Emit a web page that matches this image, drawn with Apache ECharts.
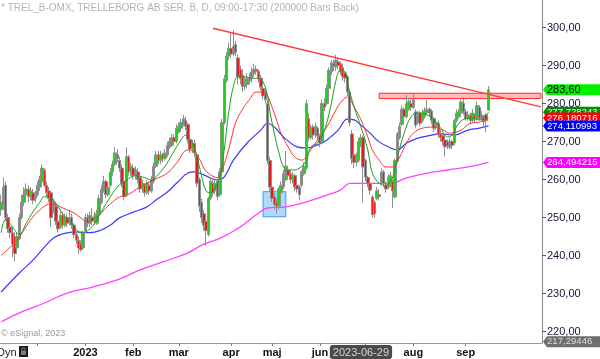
<!DOCTYPE html>
<html><head><meta charset="utf-8">
<script src="https://cdn.jsdelivr.net/npm/echarts@6/dist/echarts.min.js"></script>
<style>html,body{margin:0;padding:0;background:#fff}#c{width:600px;height:359px}</style>
</head><body><div id="c"></div>
<script>
// ---------- categories (trading days) ----------
const firstDay = '2022-11-09';
const lastDataDay = '2023-09-15';
const totalSlots = 238;
const holidays = ['2022-12-26','2023-01-06','2023-04-07','2023-04-10','2023-05-01','2023-05-18','2023-06-06','2023-06-23'];
function fmt(d){return d.toISOString().slice(0,10);}
function tradingDays(){
  const out=[]; const d=new Date(firstDay+'T00:00:00Z');
  while(out.length<totalSlots){
    const s=fmt(d), wd=d.getUTCDay();
    if(wd!==0&&wd!==6&&holidays.indexOf(s)<0) out.push(s);
    d.setUTCDate(d.getUTCDate()+1);
  }
  return out;
}
const categories = tradingDays();
const monthLabels = {'2022-12':'', '2023-01':'2023','2023-02':'feb','2023-03':'mar','2023-04':'apr','2023-05':'maj','2023-06':'jun','2023-07':'','2023-08':'aug','2023-09':'sep'};
const crossDate = '2023-06-29';
const yTicks = [220,230,240,250,260,270,280,290,300];

// ---------- OHLC ----------
const opens = [252,253,258.5,250,247.5,246,245,242,244.5,250,
254,256,257.5,255.5,256.5,255,256,258,259.5,262.5,
258.5,257,256.5,252,253,249,247.5,250.5,248,250,
249,250,248,245.5,244,243,242,246.5,250,248.5,
250,249,248.5,251,254,257,259.5,256,258.5,262,
264,266.5,265,263,259.5,256,266,262,263,261,
262,260.5,257.5,258.5,256.5,258.5,257,259.5,263.5,266.5,
265,266.5,265.5,266.5,268.5,269,271,270,272.5,273.5,
274.5,275.5,274.5,270.5,268,269.5,266.5,260,254,251,
249,245.5,255,259,257,259.5,256,262,275,286,
292.5,294.5,293,295.5,292,289,287.5,284.5,285,286,
286.5,288,289,288.5,286.7,284,283,280,265,258,
255.5,254,253,256.5,258,260,262.5,261.5,260,261,
258.5,258,258.5,261.5,263,276,271,273.8,272,273.5,
271.5,270,280,280,284,288.3,290.5,289.6,291,290.5,
289.5,288,287,283,272,266.5,264.5,265,269.5,271,
265,260.5,259,255.4,254,255,256,259,262,258.5,
258,259,259.5,255.4,265,271,274.5,278.5,276.5,278.5,
280,279,277.8,275,277.5,275.5,276.5,277.5,278.5,278,
276,274,274.8,272,271.5,270.4,270,268.5,270,269.6,
275.5,276.5,277.5,280,277.8,276,277,275.5,277,276,
279,276,276.5,277,278.3];
const closes = [254,258,250,247,246,243,240.5,245,250,254,
256,257.5,255.5,257,254.5,256,258.5,260,263,258.5,
256.5,255,250,254,249,247,250.5,248,250,248.5,
250,248,245.5,244,242,241.5,246,250,248.5,250.5,
249,250.5,251,255,257.5,259.5,256,258,262,264,
267,265.5,263,259,255.5,266,262,263.5,261,262.5,
260,257.5,259,256.5,259,257,260,263.5,266.5,265,
266.5,265.5,267,269,270,271,270,273.5,274,275,
276,274,270.5,268,269.5,267,259,253,250,248,
246.5,255,259.5,256.5,259,255.5,262,275,286.5,292.5,
294.5,293,295,293.5,287,286.5,284.5,285.5,286.5,286.8,
288.3,289,288.5,286.5,284.3,282,281,265,258,255,
253.5,253,257.5,258.5,261.5,263.5,261,260,261,258,
257.5,256,262,263.5,280,271,273.5,271.7,274,271.5,
269.6,280,279,284,288.8,290.7,289.7,291.4,290,288.3,
287,286.7,283,275,265.5,264.5,266,270,271,263.3,
260.6,259,257.2,250.7,251,257,255.5,262,259,257.5,
260.6,261,257,265,272,274,278.5,276.5,280,280.5,
279,281,274.3,277,274.8,277.5,278,278.5,277.5,275.5,
273.5,275,271.7,271,270,268.6,268.8,270,269,275.5,
277.5,277.8,280.4,277.8,276,277,275.5,277.5,276,279.5,
276,277,275.2,275.5,283.6];
const highs = [256,260.5,259.5,251,249,247.5,246,246,251,256,
258,259,258.5,258,257.5,257,259.5,261,264,263,
259.5,258,257,255,254,250,251.5,251.5,251,251,
252,251,248.5,246.5,245,244,246.5,251,251,251.5,
252.5,251.5,252,256,258.5,261,260,259,263,265,
268.5,268,266,264,260,268.5,266.5,264.5,264,263.5,
263,261,260,259,260,259.5,261,264.5,267.5,267.5,
267.5,267,268,270,271,272,272,274.5,275,276,
277,276.5,275,271.5,270.5,270.5,267,260.5,255,252,
250,255.5,260.5,260,260,260,263,276,287.5,293.5,
296,298.5,299.3,296.5,293,290,289,287,288,288,
289.5,290.5,290,289,287.5,285,284,281,266,259.5,
256.5,255,258,259.5,262.5,267.5,263.5,262.5,262,261.5,
259.5,258.5,262.5,264.5,281,277.5,274.5,274.5,275,274,
272,281,281.5,285,289.5,291.5,291.5,292.8,292,291,
290.5,288.5,287.5,283.5,273,268,267,271,272,271.5,
265.5,261,259.5,256,254.5,258,257.5,263,262.5,259.5,
261.5,262,260,265.5,272.5,275,279.5,279,282.2,281.5,
281,282.5,278.5,278,278,278.5,279,281,279,278.5,
276.5,276,275.5,273,272,271,270.5,271,270.5,276,
278.5,278.5,281,281.7,278.5,278,277.5,278.5,277.5,280.5,
279.5,278,277,277.5,284.6];
const lows = [250.5,252,249,246,244.5,239.5,238.5,241,244,249.5,
253,255,254,254.5,253.5,254,255.5,257,259,258,
255.5,254,247.5,251,248,246,247,247,247.5,247.5,
248,247,244.5,243,240.5,241,241.5,246,247.5,247.5,
248,248,248,250.5,253.5,256.5,255,255.5,258,261,
263.5,264.5,262,258,254.5,255.5,261,261,260,260,
259,256.5,256.5,255.5,256,256,256.5,259,263,264,
264,264.5,265,266,268,268.5,269,269.5,272,273,
274,273,269.5,267,267,266,258,251.5,248.5,246.5,
242.5,245,254.5,255.5,256,254.5,255.5,261.5,274.5,285.5,
291.5,292,292.5,292.5,285,285,283,283.5,284,285,
285.5,287,287.5,285.5,283.5,281,280,264,257,254,
252,251,252,255.5,257.5,259.5,260,259,259,257,
256.5,254.5,258,261,262.5,270,270.5,270.5,271,270.5,
268.5,269.5,278,279.5,283.5,287.5,288.5,288.5,289,287.5,
286,285.5,282,274,264,263,263.5,264.5,268.5,254,
259.5,258,256,250,250,254.5,254.5,258.5,258,256.5,
257.5,258,252.5,255,264.5,270.5,274,275.5,276,278,
278,278.5,273.5,274.5,274,275,276,277,276.5,274.5,
272.5,273,271,270,269,266,268,268,268,269,
275,276,277,277,275.5,275.5,274.5,275,275,275.5,
275.5,275.5,273.5,272.5,278];

// ---------- moving averages: [dayIndex, value] ----------
const maFast = [[0,246.0],[2,249.5],[5,247.5],[8,245.5],[11,248.5],[14,251.5],[17,254.0],[19,255.5],[23,254.5],[27,251.0],[31,248.5],[35,246.0],[38,246.5],[41,248.5],[44,251.5],[47,254.5],[51,258.0],[55,259.8],[59,261.0],[63,260.5],[66,259.9],[68,260.7],[72,263.5],[75,266.5],[79,270.4],[81,271.7],[84,269.5],[86,266],[88,261],[90,257],[92,256.5],[94,258],[96,260.5],[98,268],[100,278],[102,284.5],[104,287],[107,287],[110,286.7],[113,286.5],[115,285.7],[117,282],[118,278],[120,272],[122,267],[124,263.3],[126,262.5],[128,262.5],[131,263],[134,265],[136,268.6],[139,269.6],[142,273],[145,280],[147,286],[149,288.8],[151,288.3],[152,285.5],[155,279.1],[158,273.8],[161,267.8],[163,261.7],[166,259],[169,258.5],[172,260.7],[174,265.9],[177,272.2],[180,276.5],[183,277.5],[187,277],[190,275.7],[193,273.5],[196,271.2],[198,271.7],[201,274.8],[205,276.1],[207,276.1],[210,275.7],[212,276.1],[214,277.73]];
const maMid = [[0,240],[4,242.2],[7,244],[10,246.7],[14,250.2],[17,252],[20,253.3],[23,253.6],[26,252.8],[29,252],[32,251.2],[35,249.9],[38,248.8],[40,249.3],[43,250.6],[46,252.5],[49,254.1],[52,255.4],[55,255.8],[61,258],[67,259.9],[73,261.7],[77,264.3],[82,267.8],[84,267.5],[87,265.5],[89,263],[92,261.2],[95,260.5],[97,262.5],[99,266],[101,270.5],[103,275],[106,278.5],[109,281],[112,283],[115,283],[117,282],[119,279],[121,275.5],[123,272],[126,268.6],[129,265.9],[132,265.1],[135,267],[138,269.6],[143,273.8],[147,278.3],[150,280.9],[152,281.7],[155,279.1],[158,275.7],[161,271.2],[163,267.8],[166,265.1],[169,263.3],[172,263.3],[175,265.9],[178,269.6],[181,272.2],[185,273.5],[190,273.8],[194,273],[197,272.2],[202,273],[206,274.8],[210,275.1],[214,276.18]];
const maSlow = [[0,230.4],[8,235.4],[14,238.8],[19,242.2],[23,244.6],[27,245.7],[33,246.2],[39,246],[44,246.7],[48,248],[52,249.9],[58,251.4],[64,252.8],[68,254.6],[73,256.7],[77,259],[82,261.7],[85,262],[89,261.2],[95,259.9],[98,260.7],[102,265.1],[108,269.6],[114,273],[117,274.8],[120,273.8],[124,271.2],[130,268.6],[134,268.3],[139,269.1],[143,270.4],[148,273],[152,275.9],[155,275.7],[158,274.3],[162,272.2],[166,269.9],[171,268.3],[174,267.8],[178,269.6],[183,270.9],[187,271.4],[193,272],[199,271.7],[205,273],[210,273.5],[214,274.11]];
const ma200 = [[0,222.5],[8,224.9],[19,227.5],[29,230.1],[40,231.7],[51,233.6],[61,236.2],[71,238.3],[82,240.7],[89,243],[96,244.5],[105,247.5],[112,250.7],[117,252.5],[125,252.8],[134,254.1],[143,255.9],[149,257.2],[153,259],[162,259],[171,259],[178,260.4],[187,261.7],[196,262.5],[205,263.3],[214,264.49]];

// ---------- annotations ----------
const trendStart = [93, 299.8];
const trendEnd = [237, 279.1];
const supportBox = {from: 115, to: 125, low: 250.2, high: 256.8};
const resistBand = {from: 166, to: 237, low: 281.3, high: 282.7};
// right-hand value tags, in drawing order (later ones on top)
const tagValues = [264.494215, 217.29446, 283.60, 277.728243, 276.180716, 274.110993];
const tagDecimals = [6, 5, 2, 6, 6, 6];

// ---------- build ----------
const ohlc = opens.map((o,i)=>[o, closes[i], lows[i], highs[i]]);
const monthStart = {};
categories.forEach((d,i)=>{
  if(d>lastDataDay) return;
  const m=d.slice(0,7);
  if(i>0 && categories[i-1].slice(0,7)!==m && (m in monthLabels)) monthStart[i]=monthLabels[m];
});
const crossIdx = categories.indexOf(crossDate);
const FONT = 'Liberation Sans, Arial, sans-serif';
const tagStyles = [
  {bg:'#ff00ff', fg:'#ffffff'},
  {bg:'#6e6e6e', fg:'#dddddd'},
  {bg:'#00f000', fg:'#000000'},
  {bg:'#008c00', fg:'#d8ffd8'},
  {bg:'#ff0000', fg:'#ffffff'},
  {bg:'#0000ff', fg:'#ffffff'}
];

const chart = echarts.init(document.getElementById('c'), null, {renderer:'canvas'});
chart.setOption({
  animation:false,
  backgroundColor:'#ffffff',
  grid:{left:0, right:58, top:0, bottom:16, containLabel:false},
  xAxis:{
    type:'category', data:categories, boundaryGap:true,
    axisLine:{show:true, lineStyle:{color:'#9a9a9a', width:1}},
    axisTick:{show:true, alignWithLabel:true, length:3, interval:(i)=>(i in monthStart), lineStyle:{color:'#777'}},
    axisLabel:{show:true, interval:(i)=>(i in monthStart) && monthStart[i]!=='', formatter:(v,i)=>monthStart[i]||'',
      color:'#111', fontWeight:'bold', fontSize:11, fontFamily:FONT, margin:4},
    splitLine:{show:false},
    axisPointer:{show:true, value:crossIdx, status:'show', triggerTooltip:false, type:'line',
      lineStyle:{opacity:0},
      label:{show:true, formatter:()=>crossDate, backgroundColor:'#4a4a4a', color:'#d4d4d4', fontSize:11, fontFamily:FONT, padding:[2,3,1,3], margin:2, borderWidth:0, shadowBlur:0}}
  },
  yAxis:{
    type:'value', position:'right', min:216.97, max:307.24, scale:true,
    axisLine:{show:true, lineStyle:{color:'#8a8a8a', width:1}},
    axisTick:{show:true, length:4, customValues:yTicks, lineStyle:{color:'#555'}},
    axisLabel:{show:true, customValues:yTicks, formatter:(v)=>v.toFixed(2).replace('.',','), color:'#14143c', fontSize:11, fontFamily:FONT, margin:5},
    splitLine:{show:false}
  },
  series:[
    {type:'line', data:ma200, showSymbol:false, symbol:'none', smooth:0.4, lineStyle:{color:'#ff40ff', width:1.3}, z:2},
    {type:'line', data:maSlow, showSymbol:false, symbol:'none', smooth:0.4, lineStyle:{color:'#3a3aff', width:1.2}, z:2},
    {type:'candlestick', data:ohlc, barWidth:3,
      itemStyle:{color:'#22cc22', color0:'#ee1a1a', borderColor:'#8f8f8f', borderColor0:'#8f8f8f', borderWidth:1},
      z:3,
      markArea:{silent:true, data:[
        [{xAxis:categories[supportBox.from], yAxis:supportBox.low, itemStyle:{color:'rgba(110,185,245,0.55)', borderColor:'#3d9be9', borderWidth:1}},
         {xAxis:categories[supportBox.to], yAxis:supportBox.high}],
        [{xAxis:categories[resistBand.from], yAxis:resistBand.low, itemStyle:{color:'rgba(255,130,130,0.55)', borderColor:'#ff2a2a', borderWidth:1}},
         {xAxis:categories[resistBand.to], yAxis:resistBand.high}]
      ]},
      markLine:{silent:true, symbol:['none','none'], animation:false, data:[
        [{coord:[categories[trendStart[0]], trendStart[1]], lineStyle:{color:'#ff3b3b', width:1.4, type:'solid'}, label:{show:false}},
         {coord:[categories[trendEnd[0]], trendEnd[1]]}]
      ]}
    },
    {type:'line', data:maMid, showSymbol:false, symbol:'none', smooth:0.4, lineStyle:{color:'#ff3030', width:1}, z:4},
    {type:'line', data:maFast, showSymbol:false, symbol:'none', smooth:0.4, lineStyle:{color:'#1aa01a', width:1}, z:4}
  ]
});

// value tags at the price axis, positioned through the chart's own y scale
const gridRect = chart.getModel().getComponent('grid').coordinateSystem.getRect();
const axisX = gridRect.x + gridRect.width;
const H = 5.5;
const tagGraphics = tagValues.map((v,k)=>{
  const y = chart.convertToPixel({yAxisIndex:0}, v);
  const txt = v.toFixed(tagDecimals[k]).replace('.',',');
  const fs = txt.length > 7 ? 9.6 : 11;
  return {type:'group', children:[
    {type:'polygon', shape:{points:[[axisX+1,y],[axisX+5,y-H],[600,y-H],[600,y+H],[axisX+5,y+H]]}, style:{fill:tagStyles[k].bg}},
    {type:'text', x:axisX+5, y:y, style:{text:txt, fill:tagStyles[k].fg, font:fs+'px '+FONT, verticalAlign:'middle'}}
  ]};
});
chart.setOption({graphic:[
  {type:'text', left:1, top:3, style:{text:'* TREL_B-OMX, TRELLEBORG AB SER. B, D, 09:00-17:30 (200000 Bars Back)', fill:'#b4b4b4', font:'10px '+FONT}},
  {type:'text', left:1, top:329, style:{text:'© eSignal, 2023', fill:'#9a9a9a', font:'9px '+FONT}},
  {type:'text', left:-3, top:347, style:{text:'Dyn', fill:'#222', font:'11px '+FONT}},
  {type:'rect', shape:{x:19, y:346, width:9, height:11}, style:{fill:'#1a1a1a'}},
  {type:'rect', shape:{x:21, y:351, width:5, height:4}, style:{fill:'#7a7a7a'}},
  {type:'rect', shape:{x:22, y:348, width:3, height:3}, style:{fill:'none', stroke:'#7a7a7a', lineWidth:1}}
].concat(tagGraphics)});
</script>
</body></html>
